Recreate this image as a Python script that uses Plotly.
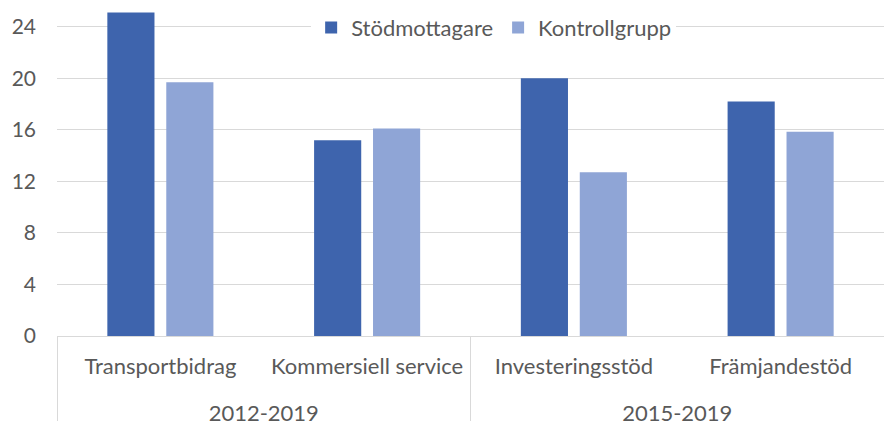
import plotly.graph_objects as go

periods = ["2012-2019", "2012-2019", "2015-2019", "2015-2019"]
categories = ["Transportbidrag", "Kommersiell service", "Investeringsstöd", "Främjandestöd"]
stod = [25.1, 15.2, 20.0, 18.2]
kontroll = [19.7, 16.1, 12.7, 15.85]
yticks = [0, 4, 8, 12, 16, 20, 24]

font_family = "Lato, 'Open Sans', sans-serif"
gray = "#595959"

# second-level labels pushed down one line, as in the reference
period_labels = ["<br>" + p for p in periods]

fig = go.Figure()
fig.add_trace(go.Bar(x=[period_labels, categories], y=stod, name="Stödmottagare",
                     marker=dict(color="#3E64AD", line=dict(width=0))))
fig.add_trace(go.Bar(x=[period_labels, categories], y=kontroll, name="Kontrollgrupp",
                     marker=dict(color="#8FA5D6", line=dict(width=0))))

fig.update_layout(
    width=884, height=421,
    margin=dict(l=57, r=0, t=1, b=85, autoexpand=False),
    paper_bgcolor="white", plot_bgcolor="white",
    barmode="group", bargap=0.43, bargroupgap=0.2,
    font=dict(family=font_family, size=21, color=gray),
    legend=dict(orientation="h", x=0.528, y=0.92, xanchor="center", yanchor="middle",
                bgcolor="white", font=dict(size=22, color=gray),
                itemwidth=30, tracegroupgap=0),
    showlegend=True,
)
fig.update_yaxes(range=[0, 26], tickvals=yticks, showgrid=True, gridcolor="#D9D9D9",
                 gridwidth=1, zeroline=False, showline=False, ticks="",
                 tickfont=dict(size=21, color=gray), ticklabelstandoff=20, automargin=False)
fig.update_xaxes(type="multicategory", showline=True, linecolor="#D9D9D9", linewidth=1,
                 showdividers=True, dividercolor="#D9D9D9", dividerwidth=1,
                 ticks="", tickfont=dict(size=22, color=gray), ticklabelstandoff=11,
                 automargin=False)

fig.write_html("out.html", config={"displayModeBar": False},
               post_script="document.body.style.margin='0';document.body.style.overflow='hidden';window.dispatchEvent(new Event('resize'));")
